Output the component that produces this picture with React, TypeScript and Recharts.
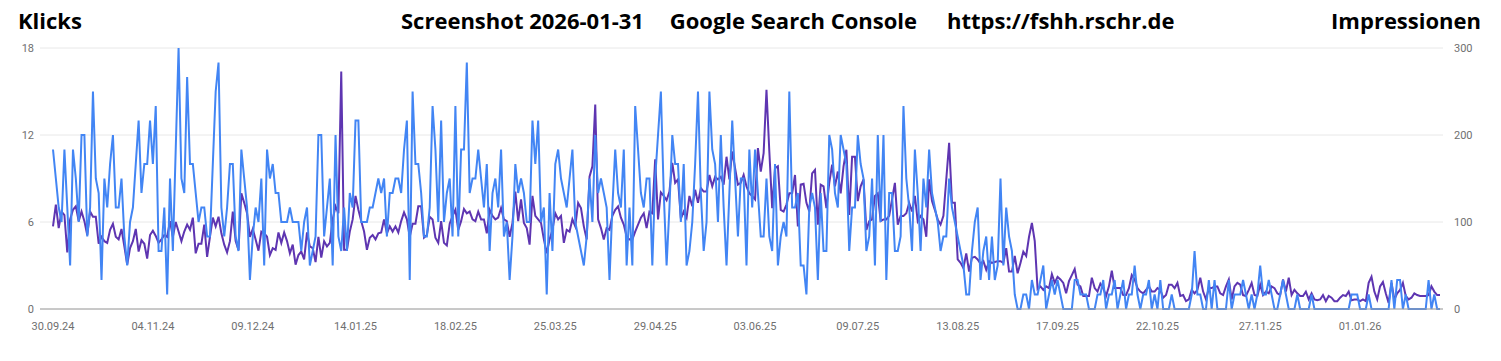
import React from 'react';
import { LineChart, Line, XAxis, YAxis, CartesianGrid } from 'recharts';

// Klicks (left axis), one value per day from 30.09.24
const clicks: number[] = [
  11, 9, 7, 6, 11, 7, 3, 11, 9, 6, 12, 12, 5, 7, 15, 9, 8, 2, 9, 7, 10, 12, 7, 7, 9, 5, 3, 6, 7, 10, 13, 8, 10, 10, 13, 10, 14,
  4, 4, 7, 1, 9, 4, 11, 18, 9, 8, 16, 10, 10, 8, 6, 7, 7, 5, 5, 10, 15, 17, 7, 5, 7, 10, 10, 5, 4, 11, 9, 7, 2, 5, 7, 6, 9, 3, 11, 9, 10, 8,
  8, 6, 6, 6, 7, 6, 6, 6, 4, 6, 7, 3, 4, 5, 12, 12, 5, 7, 9, 3, 12, 5, 4, 7, 4, 8, 7, 13, 13, 6, 6, 6, 7, 7, 8, 9, 8, 9, 5, 8, 8,
  9, 9, 8, 11, 13, 2, 15, 10, 10, 8, 5, 5, 7, 14, 11, 6, 13, 6, 8, 9, 5, 14, 5, 11, 11, 17, 8, 9, 9, 11, 9, 7, 10, 4, 8, 9, 7, 11, 5, 6, 2,
  5, 10, 8, 9, 8, 6, 6, 13, 10, 13, 6, 7, 1, 8, 4, 10, 11, 9, 8, 7, 9, 11, 6, 5, 4, 3, 5, 9, 6, 12, 8, 9, 8, 7, 2, 7, 11, 8, 7, 11, 3, 7,
  3, 14, 11, 8, 7, 9, 9, 3, 9, 12, 15, 8, 3, 7, 12, 10, 10, 6, 10, 3, 4, 6, 10, 15, 8, 4, 6, 15, 11, 10, 6, 12, 7, 3, 8, 13, 9, 5, 9, 9, 3,
  11, 7, 11, 8, 5, 5, 9, 5, 4, 10, 3, 5, 6, 5, 15, 7, 7, 8, 3, 3, 1, 7, 8, 7, 2, 8, 4, 4, 12, 11, 8, 7, 12, 11, 10, 4, 7, 7, 12, 10, 9,
  4, 5, 9, 3, 12, 6, 12, 2, 8, 8, 4, 4, 5, 14, 9, 7, 4, 11, 8, 4, 9, 7, 11, 8, 7, 6, 4, 5, 5, 9, 7, 6, 5, 4, 3, 1, 1, 4, 6, 7, 2, 4,
  5, 2, 5, 2, 3, 9, 3, 7, 5, 4, 1, 0, 0, 1, 1, 0, 2, 1, 1, 2, 3, 0, 1, 2, 1, 2, 1, 0, 0, 0, 0, 2, 2, 1, 1, 1, 0, 0, 0, 1, 1,
  2, 0, 1, 1, 2, 0, 1, 2, 0, 1, 1, 3, 1, 0, 1, 1, 2, 0, 1, 0, 2, 0, 0, 0, 1, 0, 0, 0, 0, 0, 0, 1, 4, 1, 1, 0, 0, 2, 0, 2, 0,
  0, 0, 0, 2, 0, 1, 1, 1, 2, 1, 0, 1, 0, 1, 3, 1, 1, 2, 1, 0, 0, 1, 2, 1, 0, 0, 0, 1, 0, 0, 0, 0, 1, 0, 0, 0, 0, 0, 0, 0, 0, 0,
  0, 0, 0, 0, 1, 1, 1, 0, 0, 0, 1, 0, 0, 0, 0, 0, 0, 0, 2, 0, 2, 2, 0, 1, 0, 0, 0, 0, 0, 0, 0, 2, 0, 1, 0, 0,
];

// Impressionen (right axis)
const impressions: number[] = [
  95, 120, 93, 112, 108, 65, 103, 114, 118, 101, 112, 101, 85, 112, 106, 106, 75, 83, 78, 76, 91, 98, 83, 80, 92, 72, 51, 70, 78, 92, 66, 79, 75, 58, 85, 90, 84,
  76, 80, 85, 83, 101, 83, 100, 89, 78, 89, 97, 91, 105, 64, 75, 75, 97, 60, 83, 105, 95, 106, 87, 74, 65, 78, 112, 78, 68, 133, 122, 110, 83, 92, 80, 67, 89, 87, 83, 62, 70, 68,
  88, 76, 88, 78, 64, 74, 51, 62, 66, 57, 88, 72, 70, 54, 83, 59, 78, 72, 76, 103, 118, 110, 273, 68, 68, 89, 103, 130, 114, 101, 89, 68, 82, 85, 80, 87, 88, 103, 87, 95, 89,
  95, 88, 101, 111, 103, 83, 98, 98, 118, 118, 82, 85, 106, 103, 82, 76, 101, 76, 73, 98, 107, 114, 91, 101, 115, 110, 112, 103, 101, 112, 103, 103, 87, 114, 107, 103, 105, 116, 103, 101, 83,
  99, 135, 101, 126, 99, 93, 74, 130, 107, 103, 99, 80, 64, 80, 91, 110, 103, 107, 76, 91, 89, 103, 95, 122, 116, 95, 80, 152, 164, 235, 103, 93, 80, 93, 91, 107, 114, 118, 105, 97, 83, 80,
  80, 89, 97, 105, 110, 93, 112, 110, 172, 103, 134, 130, 125, 135, 168, 145, 149, 104, 112, 105, 130, 118, 137, 122, 139, 135, 135, 154, 141, 152, 149, 152, 143, 175, 149, 181, 162, 143, 145, 154, 141,
  133, 130, 126, 185, 158, 179, 252, 181, 116, 162, 164, 114, 112, 120, 133, 133, 154, 95, 143, 144, 122, 112, 156, 160, 97, 143, 141, 116, 145, 166, 141, 158, 133, 164, 183, 108, 175, 175, 124, 141, 149,
  91, 101, 103, 130, 133, 101, 103, 103, 107, 126, 145, 97, 107, 107, 110, 122, 112, 130, 101, 107, 103, 83, 149, 124, 114, 103, 97, 107, 149, 191, 122, 122, 57, 53, 47, 64, 43, 59, 60, 57, 52, 55,
  45, 55, 53, 54, 55, 55, 53, 70, 43, 43, 61, 41, 53, 66, 61, 83, 99, 78, 23, 26, 22, 26, 24, 40, 30, 37, 34, 30, 18, 32, 39, 46, 28, 26, 15, 15, 15, 36, 24, 20, 29,
  24, 15, 26, 44, 24, 24, 24, 16, 16, 24, 39, 34, 24, 20, 18, 22, 26, 20, 20, 24, 22, 13, 16, 28, 28, 24, 30, 15, 16, 9, 11, 22, 18, 22, 36, 20, 11, 24, 24, 26, 26,
  18, 16, 26, 34, 11, 26, 30, 28, 16, 15, 22, 30, 16, 15, 28, 16, 20, 18, 26, 24, 18, 16, 34, 20, 36, 16, 22, 18, 15, 15, 20, 11, 18, 11, 10, 11, 16, 9, 15, 13, 9, 9,
  13, 16, 15, 20, 10, 11, 11, 9, 11, 9, 30, 37, 20, 11, 26, 31, 18, 7, 30, 11, 18, 22, 30, 15, 11, 13, 18, 16, 15, 15, 15, 16, 26, 20, 16, 16,
];

const xTickLabels = [
  '30.09.24', '04.11.24', '09.12.24', '14.01.25', '18.02.25', '25.03.25', '29.04.25',
  '03.06.25', '09.07.25', '13.08.25', '17.09.25', '22.10.25', '27.11.25', '01.01.26',
];
const leftTicks = [0, 6, 12, 18];
const rightTicks = [0, 100, 200, 300];

const pad = (n: number) => (n < 10 ? '0' + n : '' + n);
const dayLabel = (i: number) => {
  const d = new Date(Date.UTC(2024, 8, 30 + i));
  return `${pad(d.getUTCDate())}.${pad(d.getUTCMonth() + 1)}.${String(d.getUTCFullYear()).slice(2)}`;
};

const data = clicks.map((c, i) => ({ date: dayLabel(i), klicks: c, impr: impressions[i] }));

const tickStyle = { fill: '#6f6f6f', fontSize: 11, fontFamily: 'Roboto, sans-serif' };
const titleStyle: React.CSSProperties = {
  fontFamily: '"Open Sans", sans-serif',
  fontWeight: 700,
  fontSize: 22,
  fill: '#000',
};

export default function App() {
  return (
    <div style={{ position: 'absolute', left: 0, top: 0, width: 1501, height: 361, background: '#fff' }}>
      <svg width={1501} height={40} style={{ position: 'absolute', left: 0, top: 0 }}>
        <text x={18} y={29} style={titleStyle}>Klicks</text>
        <text x={401} y={29} style={titleStyle}>Screenshot 2026-01-31</text>
        <text x={917} y={29} style={titleStyle} textAnchor="end">Google Search Console</text>
        <text x={947} y={29} style={titleStyle}>https://fshh.rschr.de</text>
        <text x={1481} y={29} style={titleStyle} textAnchor="end">Impressionen</text>
      </svg>
      <div style={{ position: 'absolute', left: 0, top: 0 }}>
        <LineChart width={1501} height={361} data={data} margin={{ top: 48, right: 0, bottom: 22, left: 0 }}>
          <CartesianGrid vertical={false} stroke="#e8e8e8" yAxisId="left" />
          <XAxis
            dataKey="date"
            ticks={xTickLabels}
            interval={0}
            tickLine={false}
            axisLine={{ stroke: '#9e9e9e' }}
            tick={tickStyle}
            tickSize={0}
            tickMargin={13}
            height={30}
            padding={{ left: 13, right: 3 }}
          />
          <YAxis
            yAxisId="left"
            domain={[0, 18]}
            ticks={leftTicks}
            axisLine={false}
            tickLine={false}
            tickSize={0}
            tickMargin={6}
            width={40}
            tick={tickStyle}
          />
          <YAxis
            yAxisId="right"
            orientation="right"
            domain={[0, 300]}
            ticks={rightTicks}
            axisLine={false}
            tickLine={false}
            tickSize={0}
            tickMargin={11}
            width={58}
            tick={{ ...tickStyle, textAnchor: 'start' }}
          />
          <Line yAxisId="right" type="linear" dataKey="impr" stroke="#5e35b1" strokeWidth={2} dot={false} isAnimationActive={false} />
          <Line yAxisId="left" type="linear" dataKey="klicks" stroke="#4285f4" strokeWidth={2} dot={false} isAnimationActive={false} />
        </LineChart>
      </div>
    </div>
  );
}
